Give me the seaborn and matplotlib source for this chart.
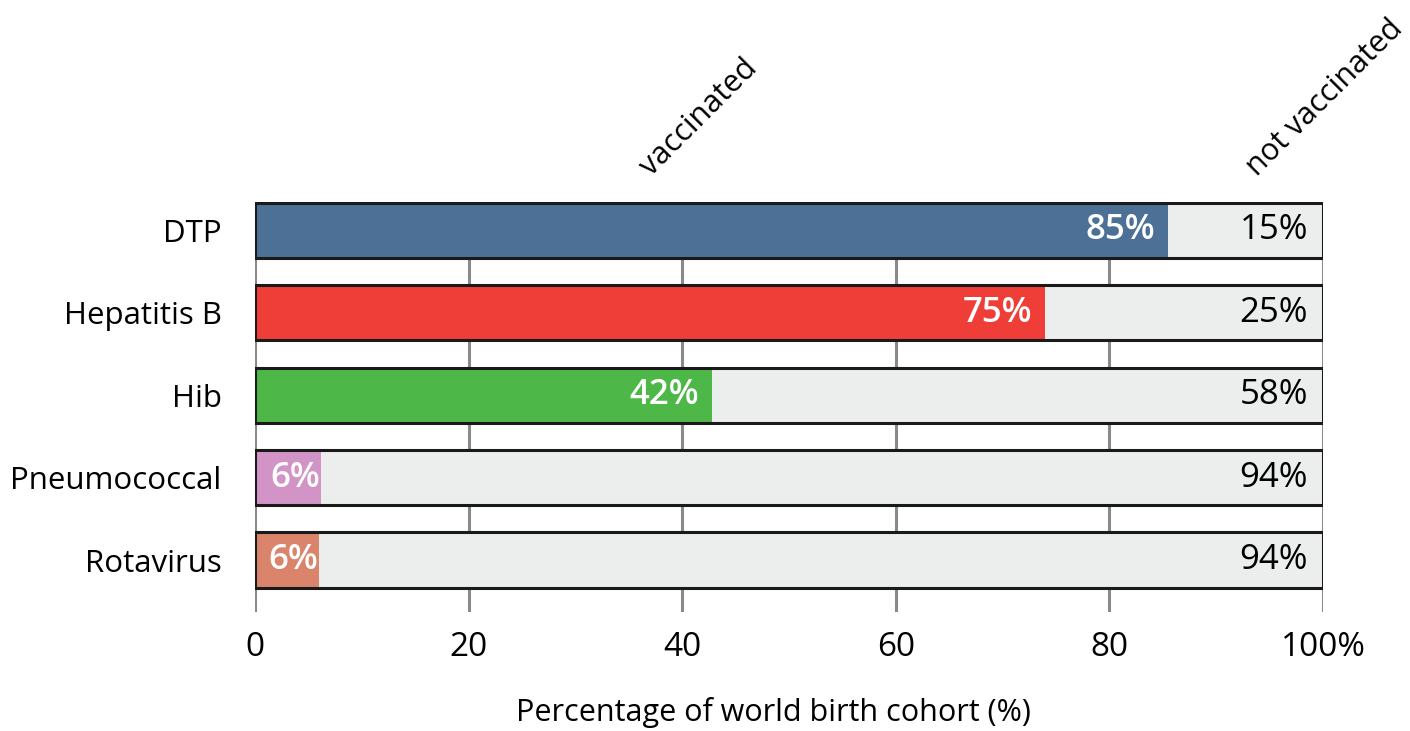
import matplotlib
matplotlib.use("Agg")
import matplotlib.pyplot as plt
import seaborn as sns
import pandas as pd

# data
vaccines = ["DTP", "Hepatitis B", "Hib", "Pneumococcal", "Rotavirus"]
vaccinated = [85.5, 74.0, 42.8, 6.2, 6.0]
vacc_labels = ["85%", "75%", "42%", "6%", "6%"]
not_vacc_labels = ["15%", "25%", "58%", "94%", "94%"]
colors = ["#4C7096", "#EE3E37", "#4DB848", "#D294C6", "#D9846B"]
rest_color = "#ECEEED"

sns.set_theme(style="white")
plt.rcParams["font.family"] = ["Open Sans", "DejaVu Sans"]
plt.rcParams["text.color"] = "black"

df = pd.DataFrame({"vaccine": vaccines, "vaccinated": vaccinated, "total": [100] * len(vaccines)})

fig = plt.figure(figsize=(14.1, 7.31), dpi=100)
ax = fig.add_axes([0.1809, 0.1628, 0.9383 - 0.1809, 0.7237 - 0.1628])

# grey background bar (not vaccinated part)
sns.barplot(data=df, x="total", y="vaccine", color=rest_color, saturation=1,
            width=0.67, linewidth=0, ax=ax, zorder=2)
# vaccinated part
sns.barplot(data=df, x="vaccinated", y="vaccine", hue="vaccine", palette=colors,
            saturation=1, legend=False, width=0.67, linewidth=0, ax=ax, zorder=3)
# black outline round the whole bar
sns.barplot(data=df, x="total", y="vaccine", fill=False, edgecolor="#1a1a1a",
            width=0.67, linewidth=2.2, ax=ax, zorder=4)

for i, v in enumerate(vaccinated):
    pad = 1.2 if v > 10 else 0.1
    ax.text(v - pad, i, vacc_labels[i], ha="right", va="center", color="white",
            fontsize=25, fontweight="semibold", zorder=5)
    ax.text(98.6, i, not_vacc_labels[i], ha="right", va="center", color="black",
            fontsize=25, zorder=5)

ax.set_xlim(0, 100)
ax.set_ylim(len(vaccines) - 1 + 0.63, -0.345)
ax.set_xticks([0, 20, 40, 60, 80, 100])
ax.set_xticklabels(["0", "20", "40", "60", "80", "100%"])
for x in [0, 20, 40, 60, 80, 100]:
    ax.axvline(x, color="#8a8a8a", linewidth=2.2, zorder=1)
for s in ax.spines.values():
    s.set_visible(False)
ax.tick_params(axis="both", length=0, colors="black")
ax.tick_params(axis="y", pad=24, labelsize=22.5)
ax.tick_params(axis="x", pad=14, labelsize=24)
ax.set_ylabel("")
ax.set_xlabel("Percentage of world birth cohort (%)", fontsize=22, color="black")
ax.xaxis.set_label_coords(0.485, -0.245)
ax.xaxis.label.set_va("center")

tr = ax.get_xaxis_transform()
ax.text(37.5, 1.05, "vaccinated", rotation=45, rotation_mode="anchor",
        ha="left", va="bottom", fontsize=22, transform=tr)
ax.text(94.3, 1.05, "not vaccinated", rotation=45, rotation_mode="anchor",
        ha="left", va="bottom", fontsize=22, transform=tr)

fig.savefig("out.png", dpi=100)
